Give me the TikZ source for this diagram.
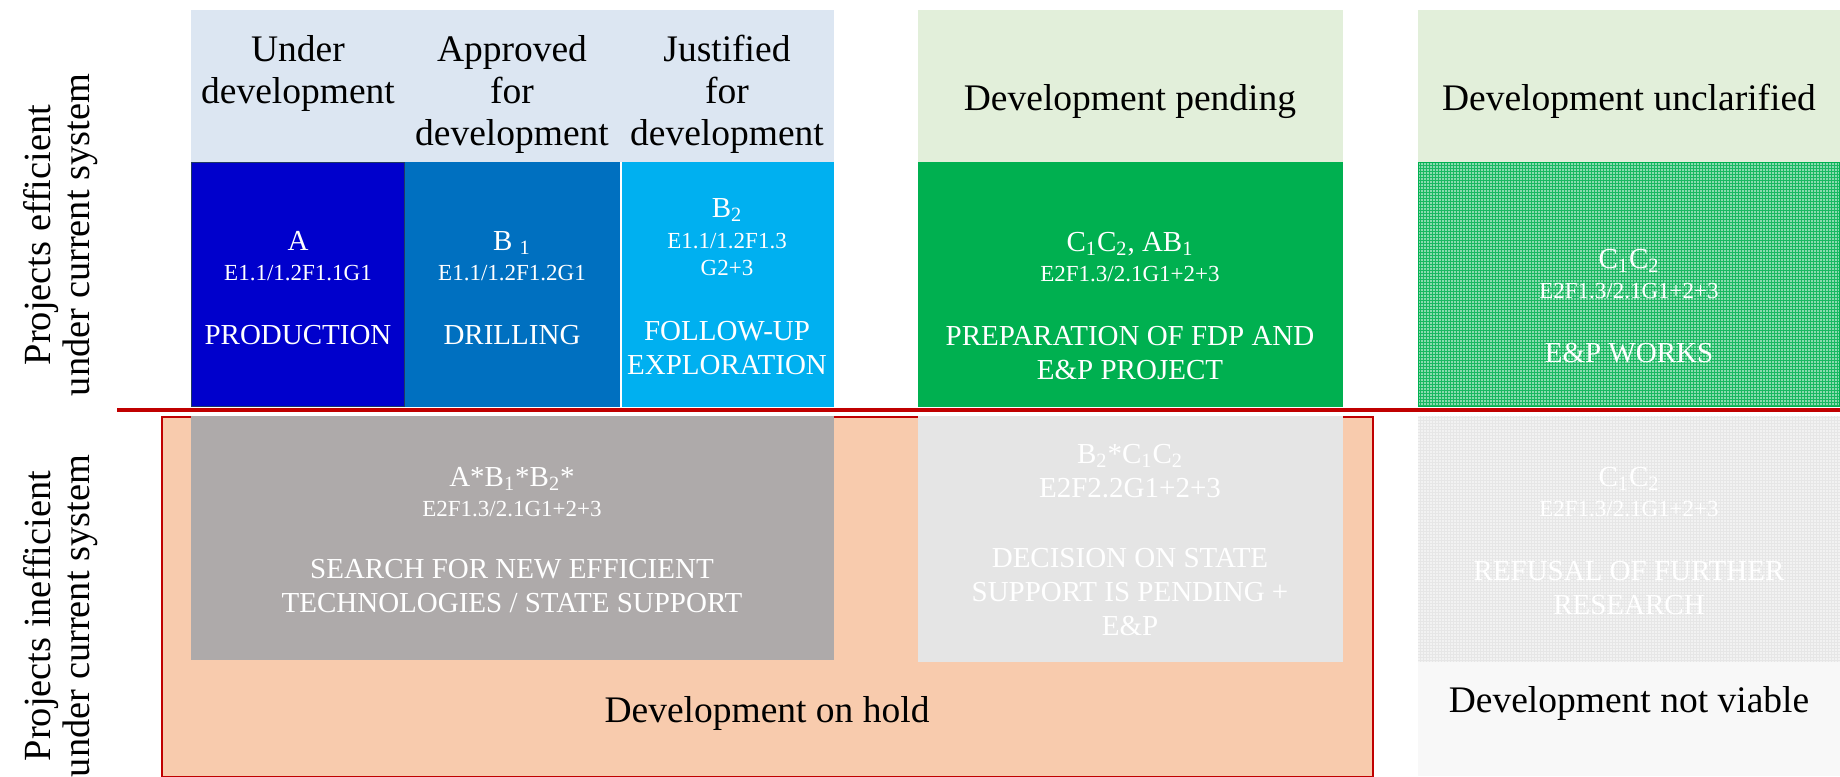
\documentclass[tikz,border=0pt]{standalone}
\usepackage{fontspec}
\setmainfont{Liberation Serif}
\usetikzlibrary{patterns.meta}
\definecolor{hdrblue}{HTML}{DCE6F2}
\definecolor{hdrgreen}{HTML}{E2EFDA}
\definecolor{prodblue}{HTML}{0000CC}
\definecolor{drillblue}{HTML}{0070C0}
\definecolor{explblue}{HTML}{00B0F0}
\definecolor{fdpgreen}{HTML}{00B050}
\definecolor{holdgray}{HTML}{AEAAAA}
\definecolor{pendgray}{HTML}{E5E5E5}
\definecolor{refgray}{HTML}{E6E6E6}
\definecolor{nogray}{HTML}{F8F8F8}
\definecolor{peach}{HTML}{F8CBAD}
\definecolor{redline}{HTML}{C00000}
\definecolor{navy}{HTML}{1F3864}
\tikzdeclarepattern{
  name=finedots,
  type=uncolored,
  bounding box={(-0.5pt,-0.5pt) and (0.5pt,0.5pt)},
  tile size={(1.5pt,1.5pt)},
  code={\fill (0pt,0pt) circle (0.4pt);}
}
\newcommand{\codesz}[1]{{\fontsize{11.5}{13}\selectfont #1}}

\begin{document}
\begin{tikzpicture}[x=0.5pt, y=-0.5pt,
    head/.style={align=center, inner sep=0pt, font=\fontsize{18.75}{21}\selectfont},
    side/.style={align=center, inner sep=0pt, rotate=90, font=\fontsize{19.2}{19.5}\selectfont},
    cell/.style={align=center, inner sep=0pt, anchor=north, text=white, font=\fontsize{14.5}{17}\selectfont}]
\useasboundingbox (0,0) rectangle (1840,776);

\fill[hdrblue] (191,10) rectangle (834,162);
\fill[prodblue] (191,162) rectangle (405,407);
\draw[navy, line width=0.8pt] (191.5,162.5) rectangle (404.5,406.5);
\fill[drillblue] (405,162) rectangle (620,407);
\fill[explblue] (622,162) rectangle (834,407);

\fill[hdrgreen] (918,10) rectangle (1343,162);
\fill[fdpgreen] (918,162) rectangle (1343,407);

\fill[hdrgreen] (1418,10) rectangle (1840,162);
\fill[fdpgreen!90!white] (1418,162) rectangle (1840,407);
\fill[pattern=finedots, pattern color=white] (1418,162) rectangle (1840,407);
\draw[fdpgreen, line width=0.8pt] (1418.5,162.5) rectangle (1840,406.5);

\fill[peach] (162,417) rectangle (1373,777);
\draw[redline, line width=1pt] (162,417) rectangle (1373,777);
\fill[holdgray] (191,416) rectangle (834,660);
\fill[pendgray] (918,416) rectangle (1343,662);
\fill[refgray] (1418,416) rectangle (1840,662);
\fill[pattern=finedots, pattern color=white] (1418,416) rectangle (1840,662);
\fill[nogray] (1418,662) rectangle (1840,776);

\draw[redline, line width=2pt] (117,410) -- (1840,410);

\node[side] (eff) at (61,235) {Projects efficient\\under current system};
\node[side] (ineff) at (61,616) {Projects inefficient\\under current system};

\node[head, anchor=north] (underdev) at (298,35) {Under\\development};
\node[head, anchor=north] (approved) at (512,35) {Approved\\for\\development};
\node[head, anchor=north] (justified) at (727,35) {Justified\\for\\development};
\node[head, anchor=base] (pending) at (1130,110) {Development pending};
\node[head, anchor=base] (unclar) at (1629,110) {Development unclarified};
\node[head, anchor=base] (onhold) at (767,722) {Development on hold};
\node[head, anchor=base] (notviable) at (1629,712) {Development not viable};

\node[cell] (prod) at (298,231) {A\\[-2pt]\codesz{E1.1/1.2F1.1G1}\\[15pt]PRODUCTION};
\node[cell] (drill) at (512,231) {B \textsubscript{1}\\[-2pt]\codesz{E1.1/1.2F1.2G1}\\[15pt]DRILLING};
\node[cell] (explor) at (727,198) {B\textsubscript{2}\\[-1.5pt]\codesz{E1.1/1.2F1.3}\\[-3.5pt]\codesz{G2+3}\\[15.5pt]FOLLOW-UP\\EXPLORATION};
\node[cell] (fdp) at (1130,232) {C\textsubscript{1}C\textsubscript{2}, AB\textsubscript{1}\\[-2pt]\codesz{E2F1.3/2.1G1+2+3}\\[15pt]PREPARATION OF FDP AND\\E\&P PROJECT};
\node[cell] (works) at (1629,249) {C\textsubscript{1}C\textsubscript{2}\\[-2pt]\codesz{E2F1.3/2.1G1+2+3}\\[15pt]E\&P WORKS};
\node[cell] (search) at (512,467) {A*B\textsubscript{1}*B\textsubscript{2}*\\[-2pt]\codesz{E2F1.3/2.1G1+2+3}\\[14pt]SEARCH FOR NEW EFFICIENT\\TECHNOLOGIES / STATE SUPPORT};
\node[cell] (decision) at (1130,444) {B\textsubscript{2}*C\textsubscript{1}C\textsubscript{2}\\E2F2.2G1+2+3\\[18pt]DECISION ON STATE\\SUPPORT IS PENDING +\\E\&P};
\node[cell] (refusal) at (1629,467) {C\textsubscript{1}C\textsubscript{2}\\[-2pt]\codesz{E2F1.3/2.1G1+2+3}\\[15pt]REFUSAL OF FURTHER\\RESEARCH};
\end{tikzpicture}
\end{document}
